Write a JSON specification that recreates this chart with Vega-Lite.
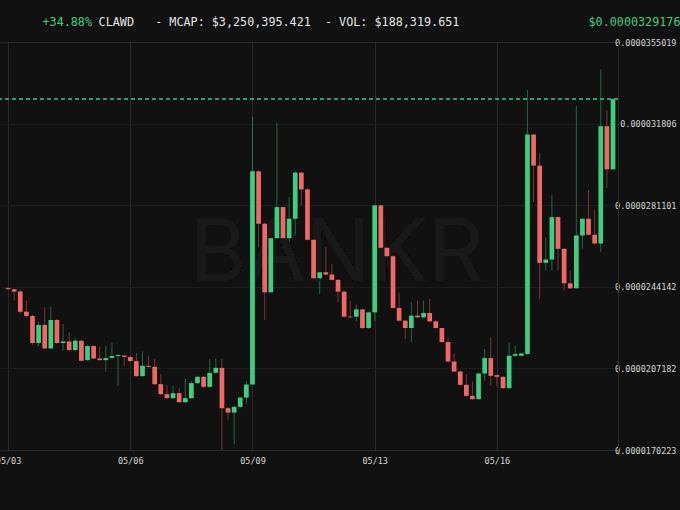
{
  "$schema": "https://vega.github.io/schema/vega-lite/v6.json",
  "width": 618,
  "height": 408,
  "autosize": {"type": "none"},
  "padding": {"left": 0, "top": 42, "right": 62, "bottom": 60},
  "background": "#111111",
  "title": {
    "text": "CLAWD\u00a0\u00a0\u00a0- MCAP: $3,250,395.421\u00a0\u00a0- VOL: $188,319.651",
    "anchor": "start",
    "frame": "group",
    "dx": 98.6,
    "offset": -17.5,
    "font": "DejaVu Sans Mono",
    "fontSize": 11.75,
    "fontWeight": "normal",
    "color": "#e6e6e6",
    "baseline": "middle"
  },
  "config": {
    "view": {"stroke": null},
    "axis": {"labelFont": "DejaVu Sans Mono", "titleFont": "DejaVu Sans Mono"}
  },
  "data": {
    "values": [
      {"i":0,"o":2.4355e-5,"h":2.4401e-5,"l":2.4264e-5,"c":2.4310e-5},
      {"i":1,"o":2.4301e-5,"h":2.4332e-5,"l":2.3788e-5,"c":2.4196e-5},
      {"i":2,"o":2.4196e-5,"h":2.4287e-5,"l":2.3197e-5,"c":2.3288e-5},
      {"i":3,"o":2.3288e-5,"h":2.3788e-5,"l":2.3016e-5,"c":2.3093e-5},
      {"i":4,"o":2.3093e-5,"h":2.3152e-5,"l":2.1790e-5,"c":2.1867e-5},
      {"i":5,"o":2.1867e-5,"h":2.2834e-5,"l":2.1699e-5,"c":2.2684e-5},
      {"i":6,"o":2.2684e-5,"h":2.3483e-5,"l":2.1608e-5,"c":2.1622e-5},
      {"i":7,"o":2.1622e-5,"h":2.3515e-5,"l":2.1608e-5,"c":2.2911e-5},
      {"i":8,"o":2.2911e-5,"h":2.2970e-5,"l":2.1835e-5,"c":2.1867e-5},
      {"i":9,"o":2.1867e-5,"h":2.2730e-5,"l":2.1517e-5,"c":2.1940e-5},
      {"i":10,"o":2.1940e-5,"h":2.2348e-5,"l":2.1517e-5,"c":2.1549e-5},
      {"i":11,"o":2.1549e-5,"h":2.2108e-5,"l":2.1517e-5,"c":2.1971e-5},
      {"i":12,"o":2.1971e-5,"h":2.2017e-5,"l":2.1018e-5,"c":2.1063e-5},
      {"i":13,"o":2.1095e-5,"h":2.1790e-5,"l":2.1063e-5,"c":2.1731e-5},
      {"i":14,"o":2.1731e-5,"h":2.1767e-5,"l":2.1154e-5,"c":2.1168e-5},
      {"i":15,"o":2.1168e-5,"h":2.1699e-5,"l":2.1063e-5,"c":2.1095e-5},
      {"i":16,"o":2.1095e-5,"h":2.1744e-5,"l":2.0577e-5,"c":2.1186e-5},
      {"i":17,"o":2.1186e-5,"h":2.1894e-5,"l":2.1154e-5,"c":2.1277e-5},
      {"i":18,"o":2.1277e-5,"h":2.1358e-5,"l":1.9928e-5,"c":2.1322e-5},
      {"i":19,"o":2.1304e-5,"h":2.1336e-5,"l":2.0836e-5,"c":2.1245e-5},
      {"i":20,"o":2.1231e-5,"h":2.1268e-5,"l":2.1018e-5,"c":2.1050e-5},
      {"i":21,"o":2.1050e-5,"h":2.1427e-5,"l":2.0337e-5,"c":2.0369e-5},
      {"i":22,"o":2.0369e-5,"h":2.1486e-5,"l":2.0337e-5,"c":2.0836e-5},
      {"i":23,"o":2.0836e-5,"h":2.1290e-5,"l":2.0745e-5,"c":2.0791e-5},
      {"i":24,"o":2.0791e-5,"h":2.1154e-5,"l":1.9974e-5,"c":2.0005e-5},
      {"i":25,"o":2.0005e-5,"h":2.0473e-5,"l":1.9520e-5,"c":1.9551e-5},
      {"i":26,"o":1.9551e-5,"h":1.9974e-5,"l":1.9338e-5,"c":1.9370e-5},
      {"i":27,"o":1.9370e-5,"h":1.9928e-5,"l":1.9338e-5,"c":1.9597e-5},
      {"i":28,"o":1.9597e-5,"h":1.9837e-5,"l":1.9156e-5,"c":1.9188e-5},
      {"i":29,"o":1.9188e-5,"h":2.0232e-5,"l":1.9156e-5,"c":1.9370e-5},
      {"i":30,"o":1.9370e-5,"h":2.0155e-5,"l":1.9338e-5,"c":2.0051e-5},
      {"i":31,"o":2.0051e-5,"h":2.0382e-5,"l":2.0019e-5,"c":2.0337e-5},
      {"i":32,"o":2.0337e-5,"h":2.0382e-5,"l":1.9837e-5,"c":1.9883e-5},
      {"i":33,"o":1.9883e-5,"h":2.1140e-5,"l":1.9837e-5,"c":2.0518e-5},
      {"i":34,"o":2.0518e-5,"h":2.1168e-5,"l":2.0473e-5,"c":2.0745e-5},
      {"i":35,"o":2.0745e-5,"h":2.1154e-5,"l":1.7022e-5,"c":1.8916e-5},
      {"i":36,"o":1.8916e-5,"h":1.8975e-5,"l":1.8371e-5,"c":1.8716e-5},
      {"i":37,"o":1.8716e-5,"h":1.9020e-5,"l":1.7281e-5,"c":1.8975e-5},
      {"i":38,"o":1.8975e-5,"h":1.9429e-5,"l":1.8929e-5,"c":1.9397e-5},
      {"i":39,"o":1.9397e-5,"h":2.0155e-5,"l":1.9111e-5,"c":1.9987e-5},
      {"i":40,"o":1.9987e-5,"h":3.2110e-5,"l":1.9974e-5,"c":2.9645e-5},
      {"i":41,"o":2.9645e-5,"h":2.9690e-5,"l":2.6208e-5,"c":2.7270e-5},
      {"i":42,"o":2.7270e-5,"h":2.7329e-5,"l":2.2911e-5,"c":2.4164e-5},
      {"i":43,"o":2.4164e-5,"h":2.7193e-5,"l":2.4151e-5,"c":2.6616e-5},
      {"i":44,"o":2.6616e-5,"h":3.1856e-5,"l":2.6603e-5,"c":2.8024e-5},
      {"i":45,"o":2.8024e-5,"h":2.8056e-5,"l":2.6149e-5,"c":2.6616e-5},
      {"i":46,"o":2.6616e-5,"h":2.8478e-5,"l":2.6389e-5,"c":2.7497e-5},
      {"i":47,"o":2.7497e-5,"h":2.9645e-5,"l":2.6739e-5,"c":2.9586e-5},
      {"i":48,"o":2.9586e-5,"h":2.9622e-5,"l":2.8101e-5,"c":2.8827e-5},
      {"i":49,"o":2.8827e-5,"h":2.8873e-5,"l":2.6512e-5,"c":2.6544e-5},
      {"i":50,"o":2.6544e-5,"h":2.6580e-5,"l":2.4764e-5,"c":2.4800e-5},
      {"i":51,"o":2.4800e-5,"h":2.5104e-5,"l":2.4092e-5,"c":2.5072e-5},
      {"i":52,"o":2.5072e-5,"h":2.6208e-5,"l":2.4923e-5,"c":2.4968e-5},
      {"i":53,"o":2.4968e-5,"h":2.5454e-5,"l":2.4696e-5,"c":2.4727e-5},
      {"i":54,"o":2.4727e-5,"h":2.4764e-5,"l":2.3710e-5,"c":2.4196e-5},
      {"i":55,"o":2.4196e-5,"h":2.4242e-5,"l":2.3016e-5,"c":2.3061e-5},
      {"i":56,"o":2.3061e-5,"h":2.3788e-5,"l":2.2993e-5,"c":2.3029e-5},
      {"i":57,"o":2.3061e-5,"h":2.3606e-5,"l":2.2848e-5,"c":2.3392e-5},
      {"i":58,"o":2.3392e-5,"h":2.3424e-5,"l":2.2516e-5,"c":2.2548e-5},
      {"i":59,"o":2.2548e-5,"h":2.3288e-5,"l":2.2516e-5,"c":2.3256e-5},
      {"i":60,"o":2.3256e-5,"h":2.8146e-5,"l":2.2879e-5,"c":2.8101e-5},
      {"i":61,"o":2.8101e-5,"h":2.8124e-5,"l":2.5527e-5,"c":2.6180e-5},
      {"i":62,"o":2.6180e-5,"h":2.6194e-5,"l":2.5299e-5,"c":2.5799e-5},
      {"i":63,"o":2.5799e-5,"h":2.5831e-5,"l":2.3424e-5,"c":2.3456e-5},
      {"i":64,"o":2.3456e-5,"h":2.4164e-5,"l":2.2834e-5,"c":2.2879e-5},
      {"i":65,"o":2.2879e-5,"h":2.2902e-5,"l":2.2049e-5,"c":2.2548e-5},
      {"i":66,"o":2.2548e-5,"h":2.3710e-5,"l":2.1894e-5,"c":2.3106e-5},
      {"i":67,"o":2.3106e-5,"h":2.3788e-5,"l":2.2993e-5,"c":2.3029e-5},
      {"i":68,"o":2.3029e-5,"h":2.3788e-5,"l":2.2993e-5,"c":2.3229e-5},
      {"i":69,"o":2.3229e-5,"h":2.3865e-5,"l":2.2811e-5,"c":2.2848e-5},
      {"i":70,"o":2.2848e-5,"h":2.2879e-5,"l":2.2516e-5,"c":2.2548e-5},
      {"i":71,"o":2.2548e-5,"h":2.2562e-5,"l":2.1881e-5,"c":2.1912e-5},
      {"i":72,"o":2.1912e-5,"h":2.2108e-5,"l":2.0995e-5,"c":2.1031e-5},
      {"i":73,"o":2.1031e-5,"h":2.1395e-5,"l":2.0541e-5,"c":2.0577e-5},
      {"i":74,"o":2.0577e-5,"h":2.0609e-5,"l":1.9928e-5,"c":1.9974e-5},
      {"i":75,"o":1.9974e-5,"h":2.0459e-5,"l":1.9429e-5,"c":1.9474e-5},
      {"i":76,"o":1.9474e-5,"h":2.0123e-5,"l":1.9293e-5,"c":1.9324e-5},
      {"i":77,"o":1.9324e-5,"h":2.0518e-5,"l":1.9293e-5,"c":2.0487e-5},
      {"i":78,"o":2.0487e-5,"h":2.1595e-5,"l":2.0155e-5,"c":2.1186e-5},
      {"i":79,"o":2.1186e-5,"h":2.2121e-5,"l":1.9928e-5,"c":2.0382e-5},
      {"i":80,"o":2.0414e-5,"h":2.0428e-5,"l":1.9928e-5,"c":2.0337e-5},
      {"i":81,"o":2.0337e-5,"h":2.0360e-5,"l":1.9792e-5,"c":1.9824e-5},
      {"i":82,"o":1.9824e-5,"h":2.1894e-5,"l":1.9792e-5,"c":2.1290e-5},
      {"i":83,"o":2.1290e-5,"h":2.1744e-5,"l":2.1245e-5,"c":2.1367e-5},
      {"i":84,"o":2.1290e-5,"h":2.1427e-5,"l":2.1245e-5,"c":2.1395e-5},
      {"i":85,"o":2.1367e-5,"h":3.3322e-5,"l":2.1336e-5,"c":3.1311e-5},
      {"i":86,"o":3.1311e-5,"h":3.1325e-5,"l":2.8251e-5,"c":2.9903e-5},
      {"i":87,"o":2.9903e-5,"h":3.0462e-5,"l":2.3865e-5,"c":2.5499e-5},
      {"i":88,"o":2.5499e-5,"h":2.6662e-5,"l":2.5150e-5,"c":2.5649e-5},
      {"i":89,"o":2.5649e-5,"h":2.8555e-5,"l":2.5150e-5,"c":2.7570e-5},
      {"i":90,"o":2.7570e-5,"h":2.7601e-5,"l":2.5150e-5,"c":2.6135e-5},
      {"i":91,"o":2.6135e-5,"h":2.6149e-5,"l":2.4242e-5,"c":2.4573e-5},
      {"i":92,"o":2.4573e-5,"h":2.5150e-5,"l":2.4310e-5,"c":2.4346e-5},
      {"i":93,"o":2.4346e-5,"h":3.2596e-5,"l":2.4332e-5,"c":2.6739e-5},
      {"i":94,"o":2.6739e-5,"h":2.7511e-5,"l":2.6149e-5,"c":2.7497e-5},
      {"i":95,"o":2.7497e-5,"h":2.8782e-5,"l":2.6739e-5,"c":2.6771e-5},
      {"i":96,"o":2.6771e-5,"h":2.7906e-5,"l":2.6330e-5,"c":2.6376e-5},
      {"i":97,"o":2.6376e-5,"h":3.4262e-5,"l":2.5981e-5,"c":3.1688e-5},
      {"i":98,"o":3.1688e-5,"h":3.2414e-5,"l":2.8886e-5,"c":2.9735e-5},
      {"i":99,"o":2.9735e-5,"h":3.29176e-5,"l":2.9690e-5,"c":3.29176e-5}
    ]
  },
  "layer": [
    {
      "mark": {"type": "rule", "strokeWidth": 1, "opacity": 0.45},
      "encoding": {
        "x": {
          "field": "i", "type": "quantitative",
          "scale": {"domain": [-0.5, 99], "nice": false, "zero": false},
          "axis": {
            "values": [0, 20, 40, 60, 80],
            "labelExpr": "datum.value == 0 ? '05/03' : datum.value == 20 ? '05/06' : datum.value == 40 ? '05/09' : datum.value == 60 ? '05/13' : '05/16'",
            "labelFontSize": 8.5,
            "labelColor": "#d6d6d6",
            "labelBaseline": "middle",
            "labelPadding": 10.7,
            "labelFlush": false,
            "labelOverlap": false,
            "ticks": false,
            "domain": true,
            "domainColor": "#2c2c2c",
            "grid": true,
            "gridColor": "#292929",
            "title": "+34.88%",
            "titleFontSize": 11.75,
            "titleFontWeight": "normal",
            "titleColor": "#3fcf80",
            "titleAlign": "left",
            "titleBaseline": "middle",
            "titleX": 42,
            "titleY": -428.4
          }
        },
        "y": {
          "field": "l", "type": "quantitative",
          "scale": {"domain": [0.0000170223, 0.0000355019], "nice": false, "zero": false},
          "axis": {
            "orient": "right",
            "values": [0.0000170223, 0.0000207182, 0.0000244142, 0.0000281101, 0.000031806, 0.0000355019],
            "format": ".10~f",
            "labelFontSize": 8.5,
            "labelColor": "#d6d6d6",
            "labelAlign": "right",
            "labelBaseline": "middle",
            "labelPadding": 58,
            "labelFlush": false,
            "labelOverlap": false,
            "ticks": false,
            "domain": true,
            "domainColor": "#2c2c2c",
            "grid": true,
            "gridColor": {"condition": {"test": "datum.value > 0.000035", "value": "#2c2c2c"}, "value": "#1c1c1c"},
            "title": "$0.0000329176",
            "titleFontSize": 11.75,
            "titleFontWeight": "normal",
            "titleColor": "#3fcf80",
            "titleAngle": 0,
            "titleAlign": "right",
            "titleBaseline": "middle",
            "titleX": 62,
            "titleY": -20.4
          }
        },
        "y2": {"field": "h"},
        "color": {"condition": {"test": "datum.c >= datum.o", "value": "#3ccf7f"}, "value": "#f06866"}
      }
    },
    {
      "mark": {"type": "text", "font": "Inter", "fontSize": 86, "fontWeight": 400, "align": "center", "baseline": "middle", "color": "#191919"},
      "encoding": {
        "x": {"datum": 53.8, "type": "quantitative"},
        "y": {"datum": 2.5854e-5, "type": "quantitative"},
        "text": {"value": "BANKR"}
      }
    },
    {
      "mark": {"type": "bar", "size": 4.7},
      "encoding": {
        "x": {"field": "i", "type": "quantitative"},
        "y": {"field": "o", "type": "quantitative"},
        "y2": {"field": "c"},
        "color": {"condition": {"test": "datum.c >= datum.o", "value": "#3ccf7f"}, "value": "#f06866"}
      }
    },
    {
      "mark": {"type": "rule", "strokeDash": [4, 3], "color": "#2f9f70", "strokeWidth": 1},
      "encoding": {
        "y": {"datum": 0.0000329176, "type": "quantitative"}
      }
    }
  ]
}
